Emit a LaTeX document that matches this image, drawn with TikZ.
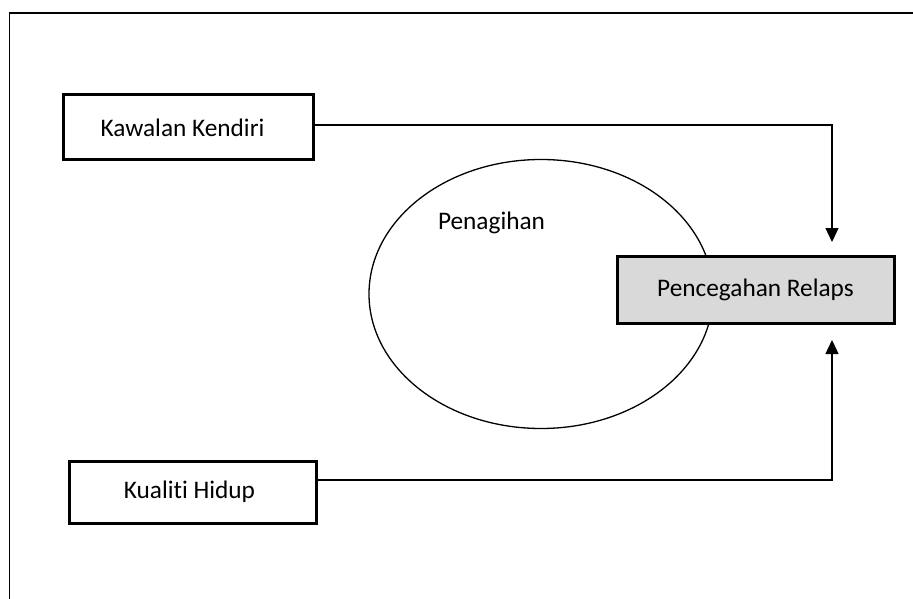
\documentclass[tikz,border=0pt]{standalone}
\usepackage{fontspec}
\setmainfont{Carlito}[Ligatures=NoCommon]
\usetikzlibrary{positioning, shapes.geometric, arrows.meta}
\definecolor{boxgray}{HTML}{D9D9D9}
\tikzset{
  factor/.style={rectangle, draw, line width=3pt, align=center, inner sep=0pt},
  conn/.style={line width=1.3pt, -{Triangle[length=14pt, width=13pt]}},
}

\begin{document}
\begin{tikzpicture}[x=1pt, y=-1pt, font=\fontsize{25.3}{30}\selectfont]
  \useasboundingbox (0,0) rectangle (913,599);
  \clip (0,0) rectangle (913,599);

  % Outer frame
  \draw[line width=1.3pt] (9.5,620) -- (9.5,13) -- (930,13);

  % Nodes
  \node[ellipse, draw, line width=1.3pt, minimum width=344pt, minimum height=269pt, inner sep=0pt] (penagihan) at (541,294) {};
  \node (penagihanlbl) at (491.5,223) {Penagihan};

  \node[factor, minimum width=250pt, minimum height=65pt] (kawalan) at (188,127.5) {Kawalan Kendiri\hspace*{11pt}};
  \node[factor, minimum width=247pt, minimum height=62pt] (kualiti) at (192.5,492) {Kualiti Hidup\hspace*{6pt}};
  \node[factor, fill=boxgray, minimum width=277pt, minimum height=67pt] (relaps) at (755.5,289.5) {Pencegahan Relaps};

  % Arrow ends
  \coordinate (topend) at (832,242);
  \coordinate (botend) at (832,340);

  % Connectors
  \draw[conn] ([yshift=2.5pt]kawalan.east) -| (topend);
  \draw[conn] ([yshift=12pt]kualiti.east) -| (botend);

\end{tikzpicture}
\end{document}
